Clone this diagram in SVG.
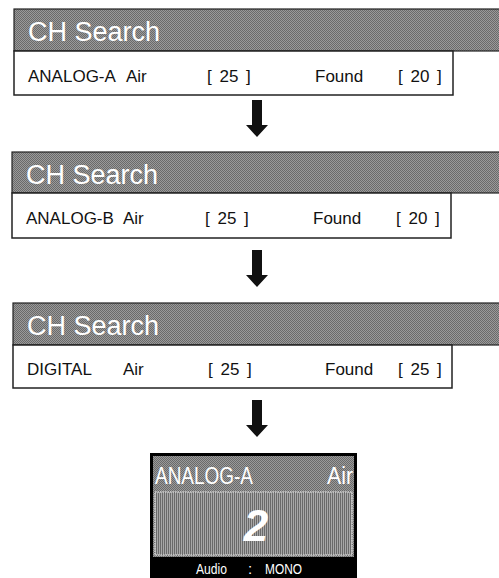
<svg xmlns="http://www.w3.org/2000/svg" width="499" height="578" viewBox="0 0 499 578">
<defs>
<pattern id="dither" width="2" height="2" patternUnits="userSpaceOnUse">
<rect width="2" height="2" fill="#9a9a9a"/>
<rect width="1" height="1" fill="#6a6a6a"/>
<rect x="1" y="1" width="1" height="1" fill="#6a6a6a"/>
</pattern>
<pattern id="stripes" width="2" height="2" patternUnits="userSpaceOnUse">
<rect width="2" height="2" fill="#a8a8a8"/>
<rect width="1" height="2" fill="#6a6a6a"/>
</pattern>
<path id="arrow" d="M-5,0 H5 V25 H11 L0,37 L-11,25 H-5 Z"/>
</defs>
<style>
.hdr{fill:url(#dither);stroke:#222;stroke-width:1.2}
.box{fill:#fff;stroke:#222;stroke-width:1.5}
.title{font-family:"Liberation Sans",Arial,sans-serif;font-size:27px;fill:#fff}
.row{font-family:"Liberation Sans",Arial,sans-serif;font-size:17px;fill:#111}
.osd{font-family:"Liberation Sans",Arial,sans-serif;fill:#fff}
.arr{fill:#111}
</style>
<rect width="499" height="578" fill="#fff"/>

<g id="panel1">
<rect class="hdr" x="14" y="9" width="490" height="42"/>
<text class="title" x="28" y="41">CH Search</text>
<rect class="box" x="14" y="51" width="439" height="44"/>
<text class="row" x="28" y="82">ANALOG-A</text>
<text class="row" x="126" y="82">Air</text>
<text class="row" x="207" y="82" word-spacing="3">[ 25 ]</text>
<text class="row" x="315" y="82">Found</text>
<text class="row" x="398" y="82" word-spacing="3">[ 20 ]</text>
</g>

<g id="panel2">
<rect class="hdr" x="12" y="152" width="492" height="41"/>
<text class="title" x="26" y="184">CH Search</text>
<rect class="box" x="12" y="193" width="439" height="45"/>
<text class="row" x="26" y="224">ANALOG-B</text>
<text class="row" x="123" y="224">Air</text>
<text class="row" x="205" y="224" word-spacing="3">[ 25 ]</text>
<text class="row" x="313" y="224">Found</text>
<text class="row" x="396" y="224" word-spacing="3">[ 20 ]</text>
</g>

<g id="panel3">
<rect class="hdr" x="13" y="303" width="491" height="42"/>
<text class="title" x="27" y="335">CH Search</text>
<rect class="box" x="13" y="345" width="439" height="43"/>
<text class="row" x="27" y="375">DIGITAL</text>
<text class="row" x="123" y="375">Air</text>
<text class="row" x="208" y="375" word-spacing="3">[ 25 ]</text>
<text class="row" x="325" y="375">Found</text>
<text class="row" x="398" y="375" word-spacing="3">[ 25 ]</text>
</g>

<g id="osd">
<rect x="150" y="453" width="207" height="125" fill="#000"/>
<rect x="153" y="456" width="201" height="101" fill="url(#dither)"/>
<rect x="155" y="492" width="197" height="63" fill="url(#stripes)" stroke="#d0d0d0" stroke-width="1.5" stroke-dasharray="1.5 1"/>
<text class="osd" x="155" y="484" font-size="23" textLength="98" lengthAdjust="spacingAndGlyphs">ANALOG-A</text>
<text class="osd" x="327" y="484" font-size="23" textLength="26" lengthAdjust="spacingAndGlyphs">Air</text>
<text class="osd" x="256" y="541" font-size="44" font-weight="bold" font-style="italic" text-anchor="middle">2</text>
<text class="osd" x="196" y="574" font-size="15" textLength="31" lengthAdjust="spacingAndGlyphs">Audio</text>
<text class="osd" x="248" y="574" font-size="15">:</text>
<text class="osd" x="265" y="574" font-size="15" textLength="37" lengthAdjust="spacingAndGlyphs">MONO</text>
</g>

<g id="connectors" class="arr">
<use href="#arrow" x="257" y="100"/>
<use href="#arrow" x="257" y="250"/>
<use href="#arrow" x="257" y="400"/>
</g>
</svg>
